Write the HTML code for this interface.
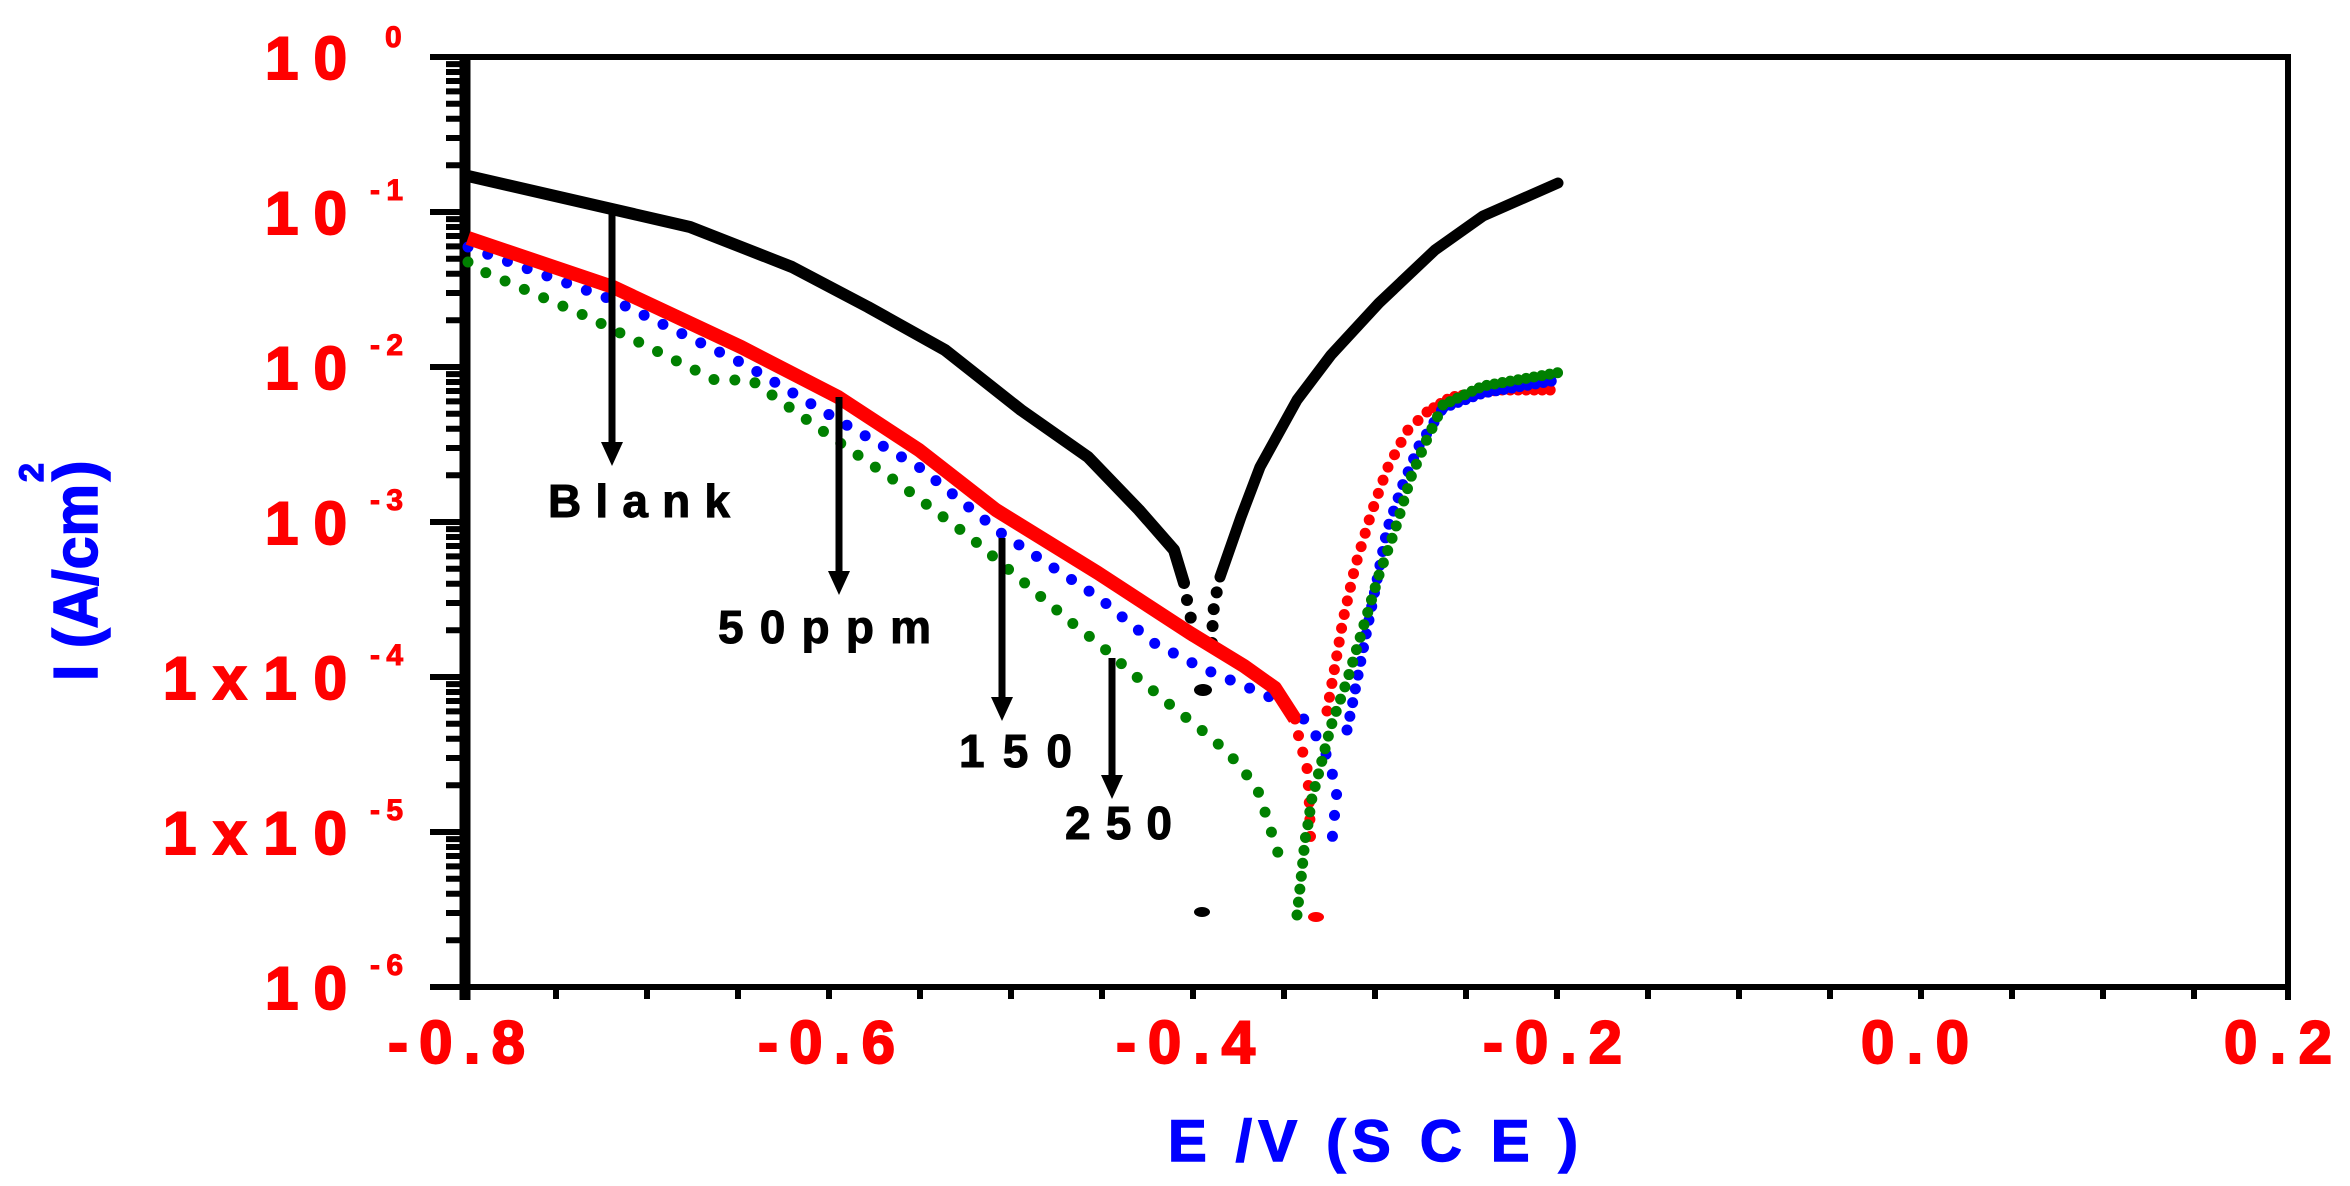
<!DOCTYPE html>
<html><head><meta charset="utf-8"><style>
html,body{margin:0;padding:0;background:#fff}
svg{display:block}
text{font-family:"Liberation Sans",Arial,sans-serif;font-weight:bold}
</style></head><body>
<svg width="2350" height="1186" viewBox="0 0 2350 1186" xmlns="http://www.w3.org/2000/svg">
<!-- ticks -->
<path fill="none" stroke="#000" stroke-width="6" d="
M446 64.1H462M446 72H462M446 81H462M446 91.4H462M446 103.7H462M446 118.7H462M446 138H462M446 165.3H462
M446 219.1H462M446 227H462M446 236H462M446 246.4H462M446 258.7H462M446 273.7H462M446 293H462M446 320.3H462
M446 374.1H462M446 382H462M446 391H462M446 401.4H462M446 413.7H462M446 428.7H462M446 448H462M446 475.3H462
M446 529.1H462M446 537H462M446 546H462M446 556.4H462M446 568.7H462M446 583.7H462M446 603H462M446 630.3H462
M446 684.1H462M446 692H462M446 701H462M446 711.4H462M446 723.7H462M446 738.7H462M446 758H462M446 785.3H462
M446 839.1H462M446 847H462M446 856H462M446 866.4H462M446 878.7H462M446 893.7H462M446 913H462M446 940.3H462
M430 57H462M430 212H462M430 367H462M430 522H462M430 677H462M430 832H462M430 987H462
M556 987V999M647 987V999M738 987V999M829 987V999M920 987V999M1011 987V999M1102 987V999M1193 987V999M1284 987V999M1375 987V999M1466 987V999M1557 987V999M1648 987V999M1739 987V999M1830 987V999M1921 987V999M2012 987V999M2103 987V999M2194 987V999"/>
<!-- frame -->
<line x1="430" y1="57" x2="2291" y2="57" stroke="#000" stroke-width="6"/>
<line x1="430" y1="987" x2="2291" y2="987" stroke="#000" stroke-width="6"/>
<line x1="2288" y1="54" x2="2288" y2="1000" stroke="#000" stroke-width="6"/>
<line x1="465" y1="54" x2="465" y2="1000" stroke="#000" stroke-width="11"/>
<!-- black -->
<polyline fill="none" stroke="#000" stroke-width="12" stroke-linejoin="round" stroke-linecap="round" points="468,176 603,207 690,227 792,267 868,307 945,350 1021,410 1088,457 1139,510 1174,550 1184,583"/>
<polyline fill="none" stroke="#000" stroke-width="12" stroke-linecap="round" stroke-dasharray="0 18" points="1187,600 1191,619 1193,644"/>
<ellipse cx="1203" cy="690" rx="9" ry="6" fill="#000"/>
<ellipse cx="1202" cy="912" rx="8" ry="5" fill="#000"/>
<polyline fill="none" stroke="#000" stroke-width="12" stroke-linecap="round" stroke-dasharray="0 17" points="1212,643 1213,613 1218,585"/>
<polyline fill="none" stroke="#000" stroke-width="11" stroke-linejoin="round" stroke-linecap="round" points="1220,577 1241,517 1260,467 1297,400 1331,355 1379,303 1435,250 1483,216 1558,183"/>

<polyline fill="none" stroke="#008000" stroke-width="11" stroke-linecap="round" stroke-dasharray="0 21" points="468,262 475,268 588,317 715,380 751,380 817,427 894,480 970,537 1077,627 1098,643 1132,673 1168,703 1204,732 1224,749 1242,768 1259,793 1279,856"/>
<polyline fill="none" stroke="#0000ff" stroke-width="11" stroke-linecap="round" stroke-dasharray="0 21" points="468,247 613,300 746,365 838,420 919,467 1001,533 1098,597 1154,643 1204,669 1259,692 1291,707 1310,725 1327,756 1337,790 1331,851"/>
<polyline fill="none" stroke="#ff0000" stroke-width="14" stroke-linejoin="round" points="468,238 613,287 741,347 838,397 919,450 996,510 1098,573 1190,633 1244,666 1275,688 1295,719"/>
<polyline fill="none" stroke="#ff0000" stroke-width="11" stroke-linecap="round" stroke-dasharray="0 17" points="1295,719 1299,738 1303,753 1307,768 1309,794 1311,851"/>
<ellipse cx="1316" cy="917" rx="8" ry="5" fill="#ff0000"/>
<polyline fill="none" stroke="#ff0000" stroke-width="11" stroke-linecap="round" stroke-dasharray="0 14" points="1327,711 1335,666 1343,620 1355,567 1371,514 1387,469 1407,431 1427,412"/>
<polyline fill="none" stroke="#ff0000" stroke-width="11" stroke-linecap="round" stroke-dasharray="0 8" points="1427,412 1451,397 1499,390 1558,390"/>
<polyline fill="none" stroke="#0000ff" stroke-width="11" stroke-linecap="round" stroke-dasharray="0 14" points="1347,730 1351,711 1363,650 1375,590 1387,530 1403,484 1419,446 1443,408"/>
<polyline fill="none" stroke="#0000ff" stroke-width="11" stroke-linecap="round" stroke-dasharray="0 8" points="1443,408 1483,393 1558,380"/>
<polyline fill="none" stroke="#008000" stroke-width="11" stroke-linecap="round" stroke-dasharray="0 13" points="1297,915 1302,870 1305,840 1309,819 1311,802 1319,772 1331,726 1347,681 1363,628 1379,575 1395,530 1411,477 1427,439 1443,405"/>
<polyline fill="none" stroke="#008000" stroke-width="11" stroke-linecap="round" stroke-dasharray="0 8" points="1443,405 1483,386 1562,372"/>
<!-- arrows -->
<g stroke="#000" stroke-width="7">
<line x1="612" y1="208" x2="612" y2="448"/>
<line x1="839" y1="397" x2="839" y2="577"/>
<line x1="1002" y1="538" x2="1002" y2="703"/>
<line x1="1112" y1="658" x2="1112" y2="781"/>
</g>
<g fill="#000">
<polygon points="601,442 623,442 612,466"/>
<polygon points="828,571 850,571 839,595"/>
<polygon points="991,697 1013,697 1002,721"/>
<polygon points="1101,775 1123,775 1112,799"/>
</g>
<g font-size="46" fill="#000" stroke="#000" stroke-width="1">
<text x="548" y="517" textLength="182" lengthAdjust="spacing">Blank</text>
<text x="718" y="643" textLength="213" lengthAdjust="spacing">50ppm</text>
<text x="959" y="767" textLength="113" lengthAdjust="spacing">150</text>
<text x="1065" y="839" textLength="107" lengthAdjust="spacing">250</text>
</g>
<!-- y labels -->
<g fill="#ff0000" stroke="#ff0000" stroke-width="2" font-size="60">
<text x="265" y="79" textLength="82" lengthAdjust="spacing">10</text>
<text x="265" y="234" textLength="82" lengthAdjust="spacing">10</text>
<text x="265" y="389" textLength="82" lengthAdjust="spacing">10</text>
<text x="265" y="544" textLength="82" lengthAdjust="spacing">10</text>
<text x="163" y="699" textLength="184" lengthAdjust="spacing">1x10</text>
<text x="163" y="854" textLength="184" lengthAdjust="spacing">1x10</text>
<text x="265" y="1009" textLength="82" lengthAdjust="spacing">10</text>
</g>
<g fill="#ff0000" stroke="#ff0000" stroke-width="1" font-size="30">
<text x="385" y="47">0</text>
<text x="370" y="200" textLength="33" lengthAdjust="spacing">-1</text>
<text x="370" y="355" textLength="33" lengthAdjust="spacing">-2</text>
<text x="370" y="510" textLength="33" lengthAdjust="spacing">-3</text>
<text x="370" y="665" textLength="33" lengthAdjust="spacing">-4</text>
<text x="370" y="820" textLength="33" lengthAdjust="spacing">-5</text>
<text x="370" y="975" textLength="33" lengthAdjust="spacing">-6</text>
</g>
<!-- x labels -->
<g fill="#ff0000" stroke="#ff0000" stroke-width="2" font-size="60">
<text x="388" y="1063" textLength="137" lengthAdjust="spacing">-0.8</text>
<text x="758" y="1063" textLength="137" lengthAdjust="spacing">-0.6</text>
<text x="1116" y="1063" textLength="139" lengthAdjust="spacing">-0.4</text>
<text x="1483" y="1063" textLength="139" lengthAdjust="spacing">-0.2</text>
<text x="1861" y="1063" textLength="108" lengthAdjust="spacing">0.0</text>
<text x="2224" y="1063" textLength="108" lengthAdjust="spacing">0.2</text>
</g>
<text x="1168" y="1161" fill="#0000ff" stroke="#0000ff" stroke-width="1.5" font-size="58" textLength="410" lengthAdjust="spacing">E /V  (S C E )</text>
<g transform="translate(97,681) rotate(-90)" fill="#0000ff" stroke="#0000ff" stroke-width="1.5">
<text x="0" y="0" font-size="62" textLength="197" lengthAdjust="spacingAndGlyphs">I (A/cm</text>
<text x="199" y="-54" font-size="34">2</text>
<text x="200" y="0" font-size="62">)</text>
</g>
</svg>
</body></html>
